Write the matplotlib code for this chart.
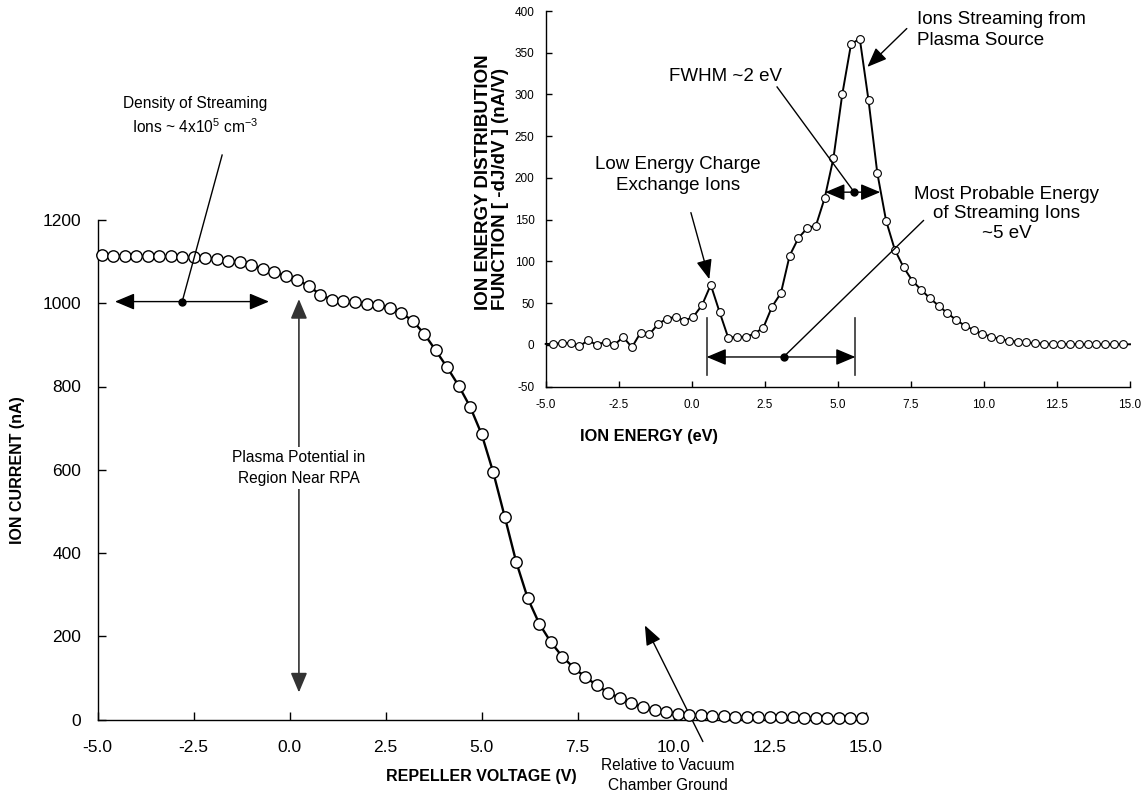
import matplotlib
matplotlib.use("Agg")
import matplotlib.pyplot as plt
import numpy as np

plt.rcParams['font.family'] = ['Liberation Sans', 'DejaVu Sans']
plt.rcParams['mathtext.fontset'] = 'custom'
plt.rcParams['mathtext.rm'] = 'Liberation Sans'
plt.rcParams['mathtext.it'] = 'Liberation Sans:italic'

# ---------------- data ----------------
# main RPA curve: repeller voltage (V) vs ion current (nA)
main_v = [-4.9, -4.6, -4.3, -4.0, -3.7, -3.4, -3.1, -2.8, -2.5, -2.2,
          -1.9, -1.6, -1.3, -1.0, -0.7, -0.4, -0.1, 0.2, 0.5, 0.8,
          1.1, 1.4, 1.7, 2.0, 2.3, 2.6, 2.9, 3.2, 3.5, 3.8,
          4.1, 4.4, 4.7, 5.0, 5.3, 5.6, 5.9, 6.2, 6.5, 6.8,
          7.1, 7.4, 7.7, 8.0, 8.3, 8.6, 8.9, 9.2, 9.5, 9.8,
          10.1, 10.4, 10.7, 11.0, 11.3, 11.6, 11.9, 12.2, 12.5, 12.8,
          13.1, 13.4, 13.7, 14.0, 14.3, 14.6, 14.9]
main_i = [1116, 1114, 1114, 1114, 1113, 1113, 1113, 1112, 1110, 1108,
          1106, 1102, 1098, 1092, 1083, 1074, 1066, 1055, 1042, 1020,
          1009, 1005, 1002, 998, 996, 989, 977, 958, 927, 887,
          846, 802, 751, 685, 594, 487, 378, 291, 230, 186,
          151, 124, 102, 82, 64, 52, 39, 30, 22, 18,
          14, 12, 10, 9, 8, 7, 6, 6, 5, 5,
          5, 4, 4, 4, 4, 3, 3]
main_end_v = [-5.0, 15.0]
main_end_i = [1116, 3]

# inset: ion energy distribution function
ied_e = [-4.75, -4.45, -4.15, -3.85, -3.55, -3.25, -2.95, -2.65, -2.35, -2.05,
         -1.75, -1.45, -1.15, -0.85, -0.55, -0.25, 0.05, 0.35, 0.65, 0.95,
         1.25, 1.55, 1.85, 2.15, 2.45, 2.75, 3.05, 3.35, 3.65, 3.95,
         4.25, 4.55, 4.85, 5.15, 5.45, 5.75, 6.05, 6.35, 6.65, 6.95,
         7.25, 7.55, 7.85, 8.15, 8.45, 8.75, 9.05, 9.35, 9.65, 9.95,
         10.25, 10.55, 10.85, 11.15, 11.45, 11.75, 12.05, 12.35, 12.65, 12.95,
         13.25, 13.55, 13.85, 14.15, 14.45, 14.75]
ied_f = [1.2, 2.4, 2.4, -1.6, 5.6, 0, 4, 0, 9.6, -2.8,
         14.8, 12.8, 25.2, 31.6, 33.6, 29.2, 33.6, 47.6, 72, 39.6,
         8.4, 10, 9.6, 13.6, 20.8, 46, 62, 107, 128, 140,
         143, 176, 224, 300, 360, 367, 293, 206, 149, 114,
         93, 77, 66, 56, 47, 38, 30, 23, 18, 13,
         10, 7, 5, 4, 3, 2, 1.6, 1.2, 1.2, 1.2,
         1, 0.8, 0.8, 0.8, 0.8, 0.8]
ied_end_e = [-5.0, 15.0]
ied_end_f = [1.2, 0.8]

main_xticks = [-5.0, -2.5, 0.0, 2.5, 5.0, 7.5, 10.0, 12.5, 15.0]
main_yticks = [0, 200, 400, 600, 800, 1000, 1200]
ied_xticks = [-5.0, -2.5, 0.0, 2.5, 5.0, 7.5, 10.0, 12.5, 15.0]
ied_yticks = [-50, 0, 50, 100, 150, 200, 250, 300, 350, 400]

# ---------------- figure ----------------
W, H = 1146, 796
fig = plt.figure(figsize=(W / 100, H / 100), dpi=100)

def fx(px):
    return px / W

def fy(py):
    return 1 - py / H

ANN_MAIN = 11.2
ANN_INSET = 13.5

ax = fig.add_axes([fx(97.7), fy(719.5), fx(865.7) - fx(97.7), fy(220) - fy(719.5)])
ax.set_facecolor('none')
ax.plot([main_end_v[0]] + main_v + [main_end_v[1]],
        [main_end_i[0]] + main_i + [main_end_i[1]],
        color='black', lw=1.7, zorder=3, clip_on=False)
ax.plot(main_v, main_i, ls='none', marker='o', ms=8.2, mfc='white', mec='black',
        mew=1.0, zorder=4, clip_on=False)
ax.set_xlim(-5, 15)
ax.set_ylim(0, 1200)
ax.set_xticks(main_xticks)
ax.set_xticklabels(['%.1f' % t for t in main_xticks])
ax.set_yticks(main_yticks)
ax.set_yticklabels(['%d' % t for t in main_yticks])
for s in ['top', 'right']:
    ax.spines[s].set_visible(False)
for s in ['left', 'bottom']:
    ax.spines[s].set_linewidth(1.0)
ax.tick_params(direction='in', length=6, width=1.0, labelsize=12.5)
ax.tick_params(axis='x', pad=15)
ax.tick_params(axis='y', pad=12)

fig.text(fx(18), fy(470), 'ION CURRENT (nA)', rotation=90, ha='center', va='center',
         fontsize=11.5, fontweight='bold')
fig.text(fx(481), fy(777), 'REPELLER VOLTAGE (V)', ha='center', va='center',
         fontsize=11.5, fontweight='bold')

# arrow styles
darrow = dict(arrowstyle='<|-|>,head_length=1.0,head_width=0.42', color='black',
              lw=1.0, shrinkA=0, shrinkB=0, mutation_scale=12)
sarrow = dict(arrowstyle='-|>,head_length=1.0,head_width=0.4', color='black',
              lw=1.0, shrinkA=0, shrinkB=0, mutation_scale=12)

# main annotations
ax.annotate('', xy=(-4.55, 1004), xytext=(-0.54, 1004), arrowprops=darrow,
            annotation_clip=False)
ax.plot([-2.80, -1.76], [1004, 1356], color='black', lw=1.0, clip_on=False, zorder=5)
ax.plot([-2.80], [1004], marker='o', ms=5, color='black', clip_on=False, zorder=6)
ax.text(-2.47, 1450, 'Density of Streaming\nIons ~ 4x10$^{5}$ cm$^{-3}$', ha='center',
        va='center', fontsize=ANN_MAIN, linespacing=1.45)

ax.annotate('', xy=(0.24, 1010), xytext=(0.24, 65),
            arrowprops=dict(arrowstyle='<|-|>,head_length=1.0,head_width=0.42',
                            color='#333333', lw=1.2, shrinkA=0, shrinkB=0,
                            mutation_scale=12), annotation_clip=False, zorder=2)
ax.text(0.24, 604, 'Plasma Potential in\nRegion Near RPA', ha='center', va='center',
        fontsize=ANN_MAIN, linespacing=1.5, zorder=3,
        bbox=dict(facecolor='white', edgecolor='none', pad=2))

ax.text(9.85, -134, 'Relative to Vacuum\nChamber Ground', ha='center', va='center',
        fontsize=ANN_MAIN, linespacing=1.4, clip_on=False)
ax.annotate('', xy=(9.25, 226), xytext=(10.76, -53), arrowprops=sarrow,
            annotation_clip=False)

# ---------------- inset ----------------
ax2 = fig.add_axes([fx(545.7), fy(386.7), fx(1130) - fx(545.7), fy(11) - fy(386.7)])
ax2.set_facecolor('none')
ax2.plot([ied_end_e[0]] + ied_e + [ied_end_e[1]],
         [ied_end_f[0]] + ied_f + [ied_end_f[1]],
         color='black', lw=1.4, zorder=3, clip_on=False)
ax2.plot(ied_e, ied_f, ls='none', marker='o', ms=5.6, mfc='white', mec='black',
         mew=0.8, zorder=4, clip_on=False)
ax2.set_xlim(-5, 15)
ax2.set_ylim(-50, 400)
ax2.set_xticks(ied_xticks)
ax2.set_xticklabels(['%.1f' % t for t in ied_xticks])
ax2.set_yticks(ied_yticks)
ax2.set_yticklabels(['%d' % t for t in ied_yticks])
for s in ['top', 'right']:
    ax2.spines[s].set_visible(False)
for s in ['left', 'bottom']:
    ax2.spines[s].set_linewidth(1.0)
ax2.tick_params(direction='in', length=4.5, width=1.0, labelsize=8.5)
ax2.tick_params(axis='x', pad=9)
ax2.tick_params(axis='y', pad=8)

fig.text(fx(649), fy(437), 'ION ENERGY (eV)', ha='center', va='center',
         fontsize=11.8, fontweight='bold')
fig.text(fx(492), fy(310), 'ION ENERGY DISTRIBUTION\nFUNCTION [ -dJ/dV ] (nA/V)',
         rotation=90, ha='center', va='bottom', multialignment='left',
         fontsize=13.5, fontweight='bold', linespacing=1.0)

# inset annotations
ax2.annotate('', xy=(4.57, 183), xytext=(6.45, 183), arrowprops=darrow,
             annotation_clip=False, zorder=6)
ax2.plot([2.92, 5.56], [309, 183], color='black', lw=1.0, clip_on=False, zorder=5)
ax2.plot([5.56], [183], marker='o', ms=5, color='black', clip_on=False, zorder=7)
ax2.text(1.14, 322, 'FWHM ~2 eV', ha='center', va='center', fontsize=ANN_INSET)

ax2.text(7.72, 377, 'Ions Streaming from\nPlasma Source', ha='left', va='center',
         fontsize=ANN_INSET, linespacing=1.3)
ax2.annotate('', xy=(6.01, 333), xytext=(7.36, 379), arrowprops=sarrow,
             annotation_clip=False)

ax2.text(-0.47, 204, 'Low Energy Charge\nExchange Ions', ha='center', va='center',
         fontsize=ANN_INSET, linespacing=1.3)
ax2.annotate('', xy=(0.60, 78.7), xytext=(-0.03, 158.5), arrowprops=sarrow,
             annotation_clip=False)

ax2.plot([0.51, 0.51], [32, -36], color='#333333', lw=1.2, clip_on=False, zorder=5)
ax2.plot([5.60, 5.60], [32, -36], color='#333333', lw=1.2, clip_on=False, zorder=5)
ax2.annotate('', xy=(0.51, -14.4), xytext=(5.60, -14.4), arrowprops=darrow,
             annotation_clip=False, zorder=6)
ax2.plot([3.14, 7.93], [-14.4, 149], color='black', lw=1.0, clip_on=False, zorder=5)
ax2.plot([3.14], [-14.4], marker='o', ms=5, color='black', clip_on=False, zorder=7)
ax2.text(10.77, 157, 'Most Probable Energy\nof Streaming Ions\n~5 eV', ha='center',
         va='center', fontsize=ANN_INSET, linespacing=1.2)

fig.savefig('out.png', dpi=100)
